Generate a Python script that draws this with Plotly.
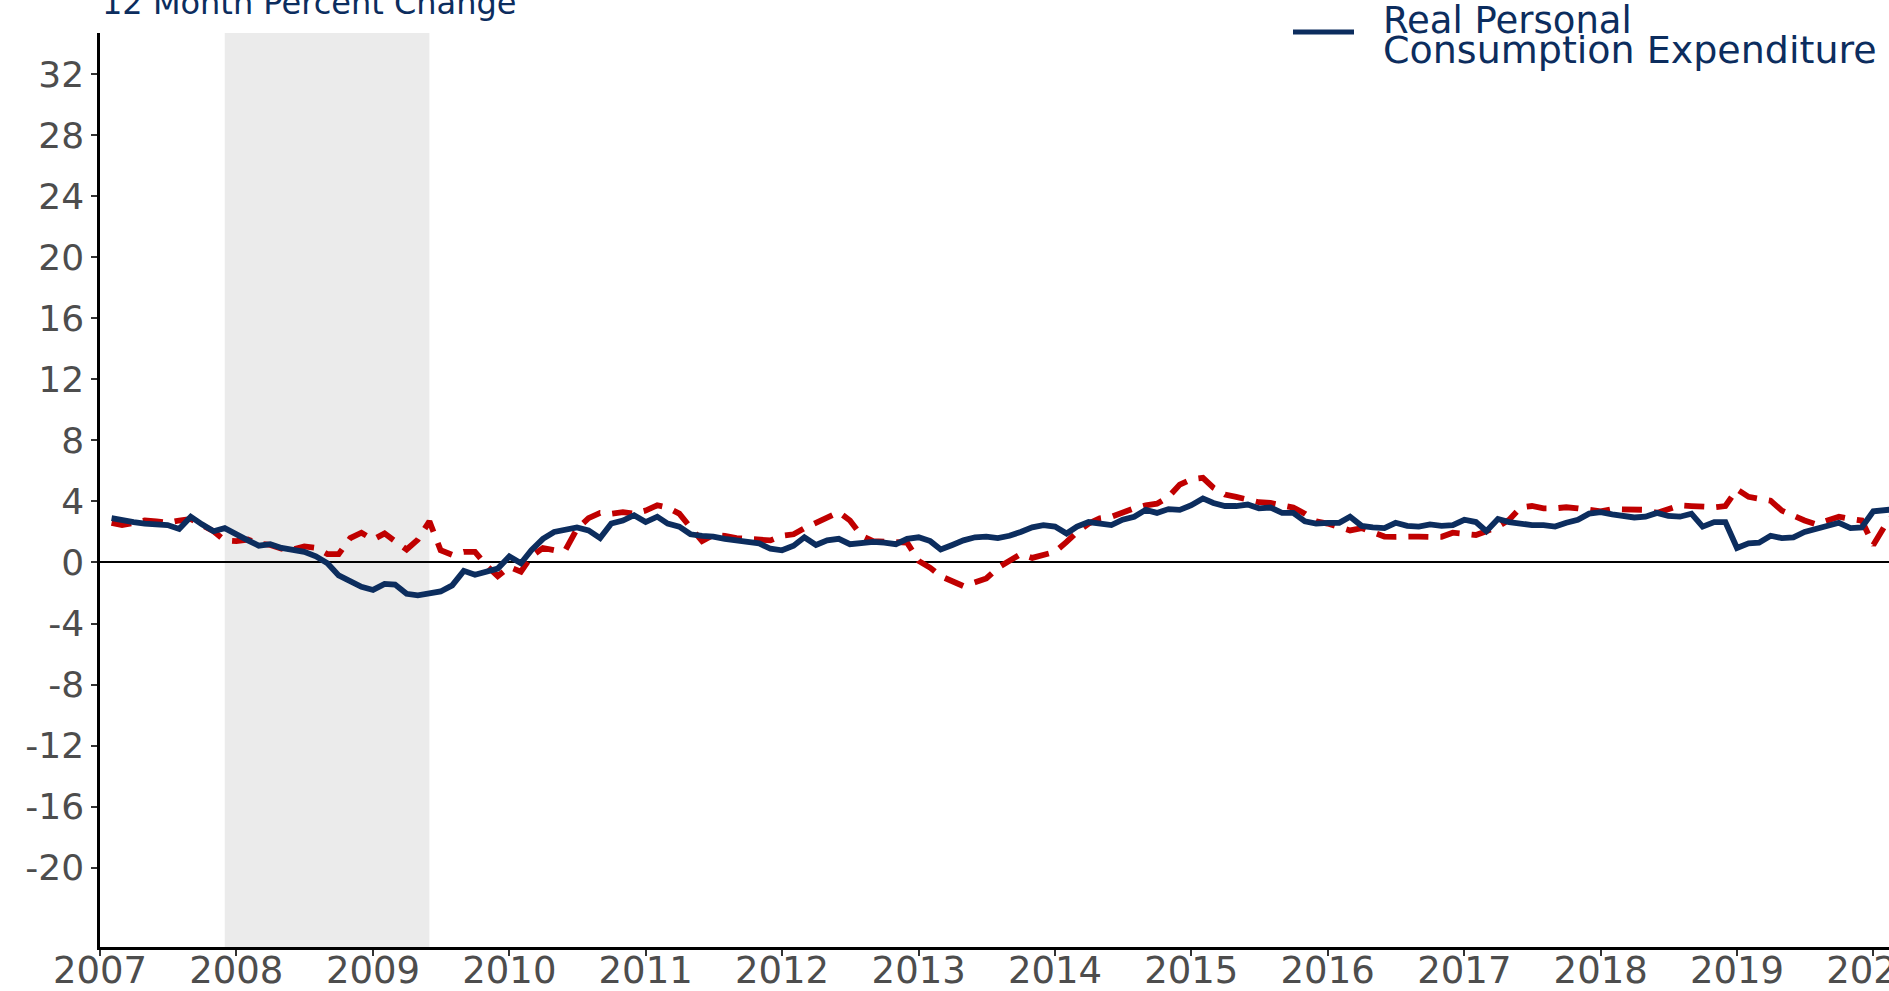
import pandas as pd
import plotly.graph_objects as go

# ---- data (12-month percent change), monthly from Feb 2007 ----
start_month = "2007-02-01"

real_pce = [
    2.9, 2.75, 2.65, 2.55, 2.5, 2.45, 2.2, 3.0, 2.5, 2.05, 2.25,            # 2007 Feb-Dec
    1.8, 1.45, 1.1, 1.2, 0.95, 0.8, 0.7, 0.4, -0.05, -0.85, -1.2, -1.6,    # 2008
    -1.8, -1.4, -1.45, -2.05, -2.15, -2.05, -1.9, -1.5, -0.55, -0.8, -0.6, -0.4,  # 2009
    0.4, -0.05, 0.8, 1.55, 2.0, 2.15, 2.3, 2.1, 1.6, 2.55, 2.75, 3.1,      # 2010
    2.65, 3.0, 2.55, 2.35, 1.85, 1.75, 1.7, 1.55, 1.4, 1.35, 1.25, 0.9,    # 2011
    0.8, 1.1, 1.65, 1.15, 1.45, 1.55, 1.2, 1.25, 1.35, 1.3, 1.2, 1.55,     # 2012
    1.65, 1.4, 0.85, 1.15, 1.45, 1.65, 1.7, 1.6, 1.75, 2.0, 2.3, 2.45,     # 2013
    2.35, 1.9, 2.35, 2.65, 2.55, 2.45, 2.8, 3.0, 3.45, 3.25, 3.5, 3.45,    # 2014
    3.75, 4.2, 3.9, 3.7, 3.7, 3.8, 3.55, 3.6, 3.25, 3.25, 2.7, 2.55,       # 2015
    2.6, 2.6, 3.0, 2.4, 2.3, 2.25, 2.6, 2.4, 2.35, 2.5, 2.4, 2.45,         # 2016
    2.8, 2.65, 2.05, 2.85, 2.65, 2.55, 2.45, 2.45, 2.35, 2.6, 2.8, 3.2,    # 2017
    3.3, 3.15, 3.1, 2.95, 3.0, 3.25, 3.05, 3.0, 3.2, 2.35, 2.65, 2.65,     # 2018
    0.95, 1.25, 1.3, 1.75, 1.6, 1.65, 2.0, 2.2, 2.4, 2.6, 2.25, 2.3,       # 2019
    3.35, 3.45, 3.5,                                                       # 2020
]

comparison = [
    2.6, 2.45, 2.6, 2.75, 2.7, 2.6, 2.75, 2.85, 2.45, 2.05, 1.45,          # 2007 Feb-Dec
    1.4, 1.5, 1.25, 1.15, 0.9, 0.85, 1.05, 0.95, 0.55, 0.55, 1.6, 1.95,    # 2008
    1.5, 1.9, 1.35, 0.85, 1.5, 2.7, 0.8, 0.5, 0.7, 0.7, -0.2, -0.9,        # 2009
    -0.3, -0.6, 0.4, 0.95, 0.8, 0.85, 2.2, 2.9, 3.25, 3.2, 3.3, 3.2,       # 2010
    3.4, 3.75, 3.6, 3.2, 2.3, 1.4, 1.8, 1.75, 1.6, 1.55, 1.55, 1.45,       # 2011
    1.75, 1.85, 2.25, 2.6, 3.0, 3.3, 2.75, 1.75, 1.4, 1.35, 1.35, 1.3,     # 2012
    0.1, -0.35, -0.9, -1.2, -1.55, -1.3, -1.05, -0.35, 0.1, 0.55, 0.3, 0.45,  # 2013
    0.7, 1.35, 2.0, 2.55, 2.9, 3.0, 3.3, 3.55, 3.75, 3.85, 4.3, 5.1,       # 2014
    5.45, 5.55, 4.9, 4.45, 4.3, 4.1, 3.95, 3.9, 3.75, 3.6, 3.2, 2.7,       # 2015
    2.55, 2.35, 2.1, 2.25, 2.0, 1.7, 1.68, 1.72, 1.7, 1.68, 1.68, 1.95,    # 2016
    1.85, 1.8, 2.05, 2.35, 2.8, 3.6, 3.7, 3.55, 3.55, 3.62, 3.55, 3.45,    # 2017
    3.35, 3.5, 3.5, 3.48, 3.45, 3.25, 3.45, 3.75, 3.7, 3.65, 3.62, 3.7,    # 2018
    4.8, 4.3, 4.2, 4.05, 3.4, 3.05, 2.75, 2.5, 2.8, 3.0, 2.85, 2.75,       # 2019
    1.15, 2.4, 3.3,                                                        # 2020
]

year_ticks = list(range(2007, 2021))
y_ticks = [32, 28, 24, 20, 16, 12, 8, 4, 0, -4, -8, -12, -16, -20]

recession_start = "2007-12-01"
recession_end = "2009-06-01"

title_text = "12 Month Percent Change"
legend_lines = ["Real Personal", "Consumption Expenditure"]

# ---- styling ----
NAVY = "#0c2d5e"
RED = "#c00000"
FONT = "DejaVu Sans"
TICK_GREY = "#4d4d4d"

W, H = 1889, 991
L, R, T, B = 100, 0, 33, 44
PW = W - L - R
PH = H - T - B


def px_x(p):
    return (p - L) / PW


def px_y(p):
    return (H - B - p) / PH


dates = pd.date_range(start_month, periods=len(real_pce), freq="MS")

fig = go.Figure()
fig.add_trace(go.Scatter(
    x=dates, y=comparison, mode="lines",
    line=dict(color=RED, width=5.8, dash="20px,12px"),
    showlegend=False, hoverinfo="skip",
))
fig.add_trace(go.Scatter(
    x=dates, y=real_pce, mode="lines",
    line=dict(color=NAVY, width=5.8),
    showlegend=False, hoverinfo="skip",
))

fig.add_shape(type="rect", xref="x", yref="paper",
              x0=recession_start, x1=recession_end, y0=0, y1=1,
              fillcolor="#ebebeb", line=dict(width=0), layer="below")

# legend (manual, two tight lines)
fig.add_shape(type="line", xref="paper", yref="paper",
              x0=px_x(1293), x1=px_x(1354), y0=px_y(32), y1=px_y(32),
              line=dict(color=NAVY, width=5))
fig.add_annotation(text=legend_lines[0], xref="paper", yref="paper",
                   x=px_x(1381), y=px_y(21), xanchor="left", yanchor="middle",
                   showarrow=False, font=dict(family=FONT, size=37, color=NAVY))
fig.add_annotation(text=legend_lines[1], xref="paper", yref="paper",
                   x=px_x(1381), y=px_y(50), xanchor="left", yanchor="middle",
                   showarrow=False, font=dict(family=FONT, size=38, color=NAVY))

# clipped title at the top
fig.add_annotation(text=title_text, xref="paper", yref="paper",
                   x=px_x(100), y=px_y(3), xanchor="left", yanchor="middle",
                   showarrow=False, font=dict(family=FONT, size=32, color=NAVY))

fig.update_layout(
    width=W, height=H,
    margin=dict(l=L, r=R, t=T, b=B, pad=0),
    paper_bgcolor="white", plot_bgcolor="white",
    showlegend=False,
    xaxis=dict(
        type="date",
        range=["2007-01-01", "2020-02-12"],
        tickvals=[f"{y}-01-01" for y in year_ticks],
        ticktext=[str(y) for y in year_ticks],
        showline=True, linecolor="black", linewidth=2.5,
        ticks="outside", ticklen=6, tickwidth=1.5, tickcolor="#333333",
        ticklabelstandoff=-17, ticklabeloverflow="allow",
        tickfont=dict(family=FONT, size=37, color=TICK_GREY),
        showgrid=False, zeroline=False, automargin=False,
    ),
    yaxis=dict(
        range=[-25.2, 34.7],
        tickvals=y_ticks,
        ticktext=[str(v) for v in y_ticks],
        showline=True, linecolor="black", linewidth=2.5,
        ticks="outside", ticklen=6, tickwidth=1.5, tickcolor="#333333",
        tickfont=dict(family=FONT, size=36, color=TICK_GREY),
        showgrid=False, zeroline=True, zerolinecolor="black", zerolinewidth=2,
        automargin=False,
    ),
)

fig.write_html(
    "out.html",
    config={"displayModeBar": False},
    post_script="document.body.style.margin='0';document.body.style.overflow='hidden';",
)
